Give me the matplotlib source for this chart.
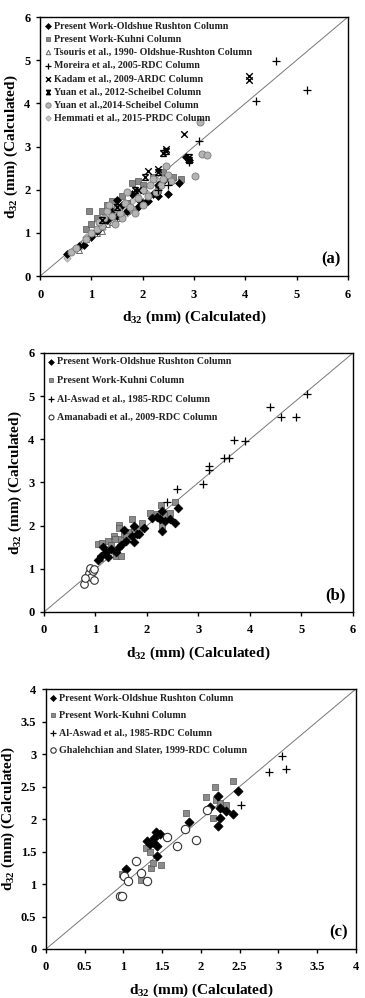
import matplotlib
matplotlib.use("Agg")
import matplotlib.pyplot as plt
from matplotlib.path import Path
import numpy as np

plt.rcParams['font.family'] = ['Liberation Serif', 'DejaVu Serif']
plt.rcParams['font.weight'] = 'bold'
plt.rcParams['mathtext.fontset'] = 'custom'
plt.rcParams['mathtext.rm'] = 'Liberation Serif:bold'
plt.rcParams['mathtext.it'] = 'Liberation Serif:bold'
plt.rcParams['mathtext.bf'] = 'Liberation Serif:bold'

# ---------------- Panel (a) data ----------------
a_old_x = [0.52, 0.75, 0.85, 1.0, 1.1, 1.2, 1.3, 1.5, 1.5, 1.7, 1.9, 2.05, 2.1, 2.3, 2.5, 2.7, 2.85, 2.9, 2.3, 2.4, 2.2, 1.8, 1.4, 1.6, 2.0, 2.45, 1.95]
a_old_y = [0.5, 0.7, 0.72, 0.9, 1.05, 1.15, 1.3, 1.77, 1.4, 1.5, 1.6, 1.7, 1.75, 1.85, 1.9, 2.15, 2.75, 2.7, 2.1, 2.2, 1.9, 1.9, 1.5, 1.65, 2.0, 2.3, 1.75]
a_kuh_x = [0.95, 0.9, 1.1, 1.2, 1.3, 1.4, 1.6, 1.8, 1.9, 2.0, 2.2, 2.4, 2.6, 2.75, 1.5, 1.7, 2.3, 1.0]
a_kuh_y = [1.5, 1.1, 1.35, 1.5, 1.65, 1.75, 1.85, 2.15, 2.2, 2.1, 2.3, 2.4, 2.3, 2.25, 1.6, 1.7, 2.0, 1.2]
a_tso_x = [0.75, 0.9, 1.1, 1.3, 1.5, 1.7, 2.0, 1.2, 1.4, 0.8, 1.6]
a_tso_y = [0.6, 0.85, 1.0, 1.2, 1.35, 1.5, 1.75, 1.05, 1.25, 0.75, 1.4]
a_mor_x = [4.6, 5.2, 4.2, 3.1, 2.9, 2.5, 2.3]
a_mor_y = [4.98, 4.3, 4.05, 3.13, 2.65, 2.1, 2.0]
a_kad_x = [4.07, 4.07, 2.8, 2.45, 2.1, 2.3, 1.9]
a_kad_y = [4.63, 4.55, 3.3, 2.95, 2.43, 2.47, 2.0]
a_y12_x = [2.4, 2.45, 1.85, 2.05, 2.3, 2.9, 2.9, 1.5, 1.2]
a_y12_y = [2.85, 2.9, 2.0, 2.3, 2.4, 2.75, 2.7, 1.6, 1.3]
a_y14_x = [0.6, 0.7, 0.9, 1.0, 1.1, 1.2, 1.25, 1.3, 1.35, 1.4, 1.5, 1.6, 1.65, 1.7, 1.8, 1.85, 1.9, 2.0, 2.0, 2.1, 2.2, 2.25, 2.35, 2.45, 2.5, 2.55, 3.12, 3.16, 3.25, 3.02, 1.45, 1.55, 2.15, 2.4, 1.15, 1.75]
a_y14_y = [0.55, 0.65, 0.85, 1.0, 1.1, 1.15, 1.35, 1.5, 1.65, 1.4, 1.55, 1.35, 1.7, 1.95, 1.55, 1.45, 1.8, 1.65, 2.0, 1.85, 2.25, 1.95, 2.1, 2.55, 2.35, 2.2, 3.57, 2.82, 2.8, 2.31, 1.2, 1.45, 2.1, 2.25, 1.25, 1.6]
a_hem_x = [0.52, 0.65, 0.8, 0.9, 1.05, 1.2, 1.35, 1.5, 1.65, 1.8, 1.9, 2.0, 2.1, 2.3, 2.5, 2.6, 1.4, 1.7]
a_hem_y = [0.42, 0.6, 0.7, 0.9, 1.0, 1.1, 1.25, 1.4, 1.6, 1.75, 1.95, 2.05, 1.9, 2.2, 2.3, 2.25, 1.55, 1.45]

# ---------------- Panel (b) data ----------------
b_old_x = [1.05, 1.1, 1.15, 1.25, 1.3, 1.4, 1.45, 1.5, 1.55, 1.6, 1.7, 1.75, 1.8, 1.85, 1.95, 2.1, 2.2, 2.3, 2.35, 2.3, 2.45, 2.55, 2.6, 2.25, 1.2, 1.75]
b_old_y = [1.2, 1.3, 1.5, 1.27, 1.45, 1.4, 1.5, 1.55, 1.9, 1.65, 1.75, 1.62, 1.8, 1.8, 1.95, 2.18, 2.2, 2.35, 2.1, 1.88, 2.15, 2.07, 2.4, 2.15, 1.4, 2.0]
b_kuh_x = [1.05, 1.08, 1.12, 1.2, 1.25, 1.3, 1.35, 1.4, 1.45, 1.45, 1.5, 1.5, 1.55, 1.65, 1.7, 1.75, 1.85, 1.9, 2.05, 2.2, 2.27, 2.3, 2.35, 2.45, 2.55, 1.38, 1.6]
b_kuh_y = [1.57, 1.25, 1.6, 1.4, 1.65, 1.55, 1.75, 1.3, 2.02, 1.95, 1.3, 1.7, 1.8, 1.85, 2.15, 1.95, 1.9, 2.05, 2.3, 2.28, 2.47, 2.0, 2.25, 2.3, 2.55, 1.7, 1.75]
b_asw_x = [5.1, 4.39, 4.6, 4.9, 3.69, 3.9, 3.5, 3.6, 3.2, 3.2, 3.09, 2.58, 2.39]
b_asw_y = [5.05, 4.74, 4.51, 4.51, 3.99, 3.97, 3.56, 3.56, 3.38, 3.3, 2.96, 2.84, 2.55]
b_ama_x = [0.78, 0.85, 0.88, 0.9, 0.92, 0.95, 0.98, 0.98, 0.8]
b_ama_y = [0.65, 0.83, 0.9, 1.02, 0.8, 0.95, 0.75, 1.0, 0.78]

# ---------------- Panel (c) data ----------------
c_old_x = [1.03, 1.31, 1.42, 1.47, 1.38, 1.43, 1.43, 1.39, 1.85, 2.22, 2.12, 2.24, 2.22, 2.24, 2.33, 2.42, 2.48, 1.34]
c_old_y = [1.23, 1.66, 1.8, 1.77, 1.64, 1.58, 1.43, 1.71, 1.95, 2.35, 2.19, 2.02, 1.89, 2.17, 2.12, 2.08, 2.43, 1.61]
c_kuh_x = [0.98, 1.22, 1.29, 1.34, 1.35, 1.38, 1.48, 1.81, 2.06, 2.18, 2.16, 2.2, 2.33, 2.41, 2.24]
c_kuh_y = [1.15, 1.06, 1.55, 1.5, 1.25, 1.32, 1.3, 2.09, 2.34, 2.5, 2.02, 2.3, 2.22, 2.59, 2.25]
c_asw_x = [3.04, 3.1, 2.88, 2.52]
c_asw_y = [2.97, 2.77, 2.72, 2.22]
c_gha_x = [0.95, 0.98, 1.01, 1.06, 1.16, 1.23, 1.3, 1.56, 1.69, 1.8, 1.94, 2.08]
c_gha_y = [0.82, 0.82, 1.12, 1.04, 1.35, 1.17, 1.05, 1.72, 1.59, 1.85, 1.67, 2.14]

# hourglass-like marker for Yuan 2012
hour = Path([(-1, 1), (1, 1), (-1, -1), (1, -1), (-1, 1), (1, -1), (-1, -1), (1, 1)],
            [Path.MOVETO, Path.LINETO, Path.MOVETO, Path.LINETO,
             Path.MOVETO, Path.LINETO, Path.MOVETO, Path.LINETO])

fig = plt.figure(figsize=(3.65, 9.98), dpi=100)

axis_label = 'd$_{32}$ (mm) (Calculated)'


def style_axes(ax, lim, step, label):
    ax.plot([0, lim], [0, lim], color='#777777', lw=0.7, zorder=1)
    ax.set_xlim(0, lim)
    ax.set_ylim(0, lim)
    ticks = np.arange(0, lim + 0.001, step)
    ax.set_xticks(ticks)
    ax.set_yticks(ticks)
    if step < 1:
        labs = [('%g' % t) for t in ticks]
    else:
        labs = [('%d' % t) for t in ticks]
    ax.set_xticklabels(labs)
    ax.set_yticklabels(labs)
    ax.tick_params(direction='out', length=3, width=1, labelsize=9)
    ax.tick_params(axis='x', pad=6)
    ax.tick_params(axis='y', pad=4)
    for s in ax.spines.values():
        s.set_linewidth(1.0)
    ax.set_xlabel(axis_label, fontsize=11, fontweight='bold', labelpad=6)
    ax.set_ylabel(axis_label, fontsize=11, fontweight='bold', labelpad=3)
    ax.text(0.975, 0.035, label, transform=ax.transAxes, ha='right', va='bottom',
            fontsize=12, fontweight='bold')


def add_legend(ax, handles, labels, spacing, mscale):
    leg = ax.legend(handles, labels, loc='upper left', frameon=False, fontsize=7.2,
                    handlelength=0.6, handletextpad=0.3, labelspacing=spacing,
                    borderaxespad=0.15, borderpad=0.3, markerscale=mscale)
    for t in leg.get_texts():
        t.set_color('#222222')
        t.set_fontweight('bold')


# ---- (a)
ax = fig.add_axes([0.110, 0.7234, 0.843, 0.2595])
ax.scatter(a_hem_x, a_hem_y, marker='D', s=14, c='#c8c8c8', edgecolors='#999999', linewidths=0.5, zorder=2, label='Hemmati et al., 2015-PRDC Column')
ax.scatter(a_tso_x, a_tso_y, marker='^', s=18, facecolors='white', edgecolors='#666666', linewidths=0.7, zorder=2, label='Tsouris et al., 1990- Oldshue-Rushton Column')
ax.scatter(a_kuh_x, a_kuh_y, marker='s', s=18, c='#888888', edgecolors='#555555', linewidths=0.5, zorder=3, label='Present Work-Kuhni Column')
ax.scatter(a_old_x, a_old_y, marker='D', s=16, c='black', edgecolors='black', linewidths=0.5, zorder=3, label='Present Work-Oldshue Rushton Column')
ax.scatter(a_y14_x, a_y14_y, marker='o', s=26, c='#b4b4b4', edgecolors='#7a7a7a', linewidths=0.6, zorder=4, label='Yuan et al.,2014-Scheibel Column')
ax.scatter(a_mor_x, a_mor_y, marker='+', s=30, c='black', linewidths=0.9, zorder=5, label='Moreira et al., 2005-RDC Column')
ax.scatter(a_kad_x, a_kad_y, marker='x', s=22, c='black', linewidths=1.0, zorder=5, label='Kadam et al., 2009-ARDC Column')
ax.scatter(a_y12_x, a_y12_y, marker=hour, s=18, c='black', linewidths=1.0, zorder=5, label='Yuan et al., 2012-Scheibel Column')
hs, ls = ax.get_legend_handles_labels()
d = dict(zip(ls, hs))
order = ['Present Work-Oldshue Rushton Column', 'Present Work-Kuhni Column',
         'Tsouris et al., 1990- Oldshue-Rushton Column', 'Moreira et al., 2005-RDC Column',
         'Kadam et al., 2009-ARDC Column', 'Yuan et al., 2012-Scheibel Column',
         'Yuan et al.,2014-Scheibel Column', 'Hemmati et al., 2015-PRDC Column']
style_axes(ax, 6, 1, '(a)')
add_legend(ax, [d[o] for o in order], order, 0.42, 0.75)

# ---- (b)
ax = fig.add_axes([0.1205, 0.3868, 0.8466, 0.2595])
ax.scatter(b_kuh_x, b_kuh_y, marker='s', s=24, c='#8c8c8c', edgecolors='#555555', linewidths=0.5, zorder=2, label='Present Work-Kuhni Column')
ax.scatter(b_old_x, b_old_y, marker='D', s=20, c='black', edgecolors='black', linewidths=0.5, zorder=3, label='Present Work-Oldshue Rushton Column')
ax.scatter(b_asw_x, b_asw_y, marker='+', s=40, c='black', linewidths=0.9, zorder=4, label='Al-Aswad et al., 1985-RDC Column')
ax.scatter(b_ama_x, b_ama_y, marker='o', s=30, facecolors='white', edgecolors='#333333', linewidths=0.8, zorder=4, label='Amanabadi et al., 2009-RDC Column')
hs, ls = ax.get_legend_handles_labels()
d = dict(zip(ls, hs))
orderb = ['Present Work-Oldshue Rushton Column', 'Present Work-Kuhni Column',
          'Al-Aswad et al., 1985-RDC Column', 'Amanabadi et al., 2009-RDC Column']
style_axes(ax, 6, 1, '(b)')
add_legend(ax, [d[o] for o in orderb], orderb, 0.95, 0.65)

# ---- (c)
ax = fig.add_axes([0.126, 0.0491, 0.849, 0.2605])
ax.scatter(c_kuh_x, c_kuh_y, marker='s', s=24, c='#8c8c8c', edgecolors='#555555', linewidths=0.5, zorder=2, label='Present Work-Kuhni Column')
ax.scatter(c_old_x, c_old_y, marker='D', s=22, c='black', edgecolors='black', linewidths=0.5, zorder=3, label='Present Work-Oldshue Rushton Column')
ax.scatter(c_asw_x, c_asw_y, marker='+', s=40, c='black', linewidths=0.9, zorder=4, label='Al-Aswad et al., 1985-RDC Column')
ax.scatter(c_gha_x, c_gha_y, marker='o', s=36, facecolors='white', edgecolors='#333333', linewidths=0.8, zorder=4, label='Ghalehchian and Slater, 1999-RDC Column')
hs, ls = ax.get_legend_handles_labels()
d = dict(zip(ls, hs))
orderc = ['Present Work-Oldshue Rushton Column', 'Present Work-Kuhni Column',
          'Al-Aswad et al., 1985-RDC Column', 'Ghalehchian and Slater, 1999-RDC Column']
style_axes(ax, 4, 0.5, '(c)')
add_legend(ax, [d[o] for o in orderc], orderc, 0.85, 0.65)

fig.savefig('out.png', dpi=100)
